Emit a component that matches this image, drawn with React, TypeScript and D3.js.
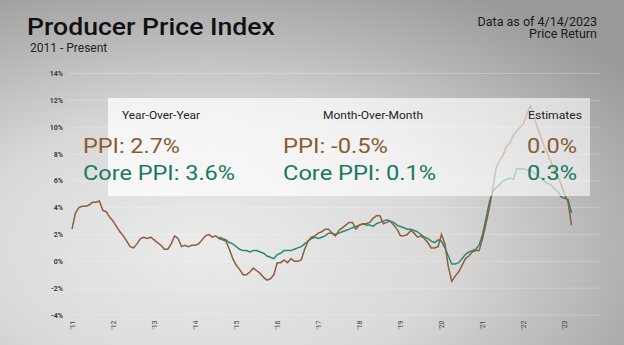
import React from "react";
import * as d3 from "d3";

const W = 624;
const H = 345;

const yTicks = [14, 12, 10, 8, 6, 4, 2, 0, -2, -4];
const yearLabels = ["'11", "'12", "'13", "'14", "'15", "'16", "'17", "'18", "'19", "'20", "'21", "'22", "'23"];

// Monthly YoY %, Jan 2011 .. Mar 2023
const ppi = [
  2.4, 3.6, 4.0, 4.1, 4.1, 4.2, 4.4, 4.4, 4.5, 3.8, 3.7, 3.3,
  3.0, 2.6, 2.2, 1.9, 1.5, 1.1, 1.0, 1.3, 1.7, 1.8, 1.7, 1.8,
  1.6, 1.4, 1.2, 0.9, 0.9, 1.3, 1.9, 1.7, 1.1, 1.2, 1.1, 1.2,
  1.2, 1.3, 1.6, 1.9, 2.0, 1.8, 1.9, 1.7, 1.6, 1.5, 0.9, 0.2,
  -0.3, -0.6, -1.0, -1.0, -0.8, -0.5, -0.7, -0.9, -1.2, -1.4, -1.3, -1.0,
  -0.1, -0.1, 0.1, -0.1, 0.2, 0.0, 0.0, 0.1, 0.9, 1.5, 1.8, 1.9,
  2.1, 2.2, 2.4, 2.4, 2.1, 1.9, 2.3, 2.5, 2.7, 2.9, 2.9, 2.4,
  2.7, 2.8, 2.8, 2.9, 3.2, 3.4, 3.4, 2.8, 2.9, 3.0, 2.7, 2.4,
  1.9, 1.9, 2.0, 2.3, 2.1, 1.8, 1.9, 1.7, 1.4, 1.0, 1.0, 1.1,
  2.0, 1.3, -0.4, -1.5, -1.1, -0.8, -0.3, 0.2, 0.4, 0.7, 0.8, 0.8,
  1.7, 2.8, 4.0, 5.5, 7.0, 7.5, 7.9, 8.6, 8.8, 9.4, 9.7, 10.0,
  10.3, 11.0, 11.6, 10.9, 10.0, 9.3, 8.6, 8.0, 7.4, 6.8, 6.3, 5.7,
  5.0, 4.4, 2.7,
];

// Core PPI starts Aug 2014 (month index 43)
const coreStart = 43;
const corePpi = [
  1.8, 1.7, 1.6, 1.4, 1.3,
  1.1, 0.9, 0.8, 0.8, 0.7, 0.8, 0.8, 0.7, 0.6, 0.4, 0.3, 0.2,
  0.5, 0.6, 0.8, 0.8, 0.8, 0.9, 1.0, 1.1, 1.3, 1.5, 1.7, 1.8,
  1.7, 1.8, 1.9, 2.1, 2.1, 2.0, 2.1, 2.2, 2.3, 2.4, 2.5, 2.6,
  2.7, 2.8, 2.7, 2.7, 2.6, 2.8, 2.9, 3.0, 3.1, 3.0, 2.9, 2.7,
  2.6, 2.5, 2.4, 2.4, 2.3, 2.2, 2.0, 1.8, 1.7, 1.5, 1.4, 1.6,
  1.5, 1.0, 0.4, -0.2, -0.2, -0.1, 0.2, 0.5, 0.7, 0.8, 0.9, 1.2,
  2.0, 3.2, 4.4, 5.2, 5.5, 5.7, 6.0, 6.1, 6.2, 6.1, 6.9, 6.9,
  6.9, 6.8, 6.8, 6.6, 6.4, 6.2, 6.0, 5.8, 5.7, 5.4, 5.2, 4.8,
  4.7, 4.6, 3.6,
];

const headings = ["Year-Over-Year", "Month-Over-Month", "Estimates"];
const ppiStats = ["PPI: 2.7%", "PPI: -0.5%", "0.0%"];
const coreStats = ["Core PPI: 3.6%", "Core PPI: 0.1%", "0.3%"];

const BROWN = "#8a5b30";
const TEAL = "#1b7763";
const LINE_BROWN = "#8c5e3a";
const LINE_TEAL = "#2a8876";

export default function App() {
  const x = d3.scaleLinear().domain([0, 146]).range([72, 571.5]);
  const y = d3.scaleLinear().domain([-4, 14]).range([315, 73.5]);

  const line = d3
    .line<[number, number]>()
    .x((d) => x(d[0]))
    .y((d) => y(d[1]))
    .curve(d3.curveLinear);

  const ppiPts: [number, number][] = ppi.map((v, i) => [i, v]);
  const corePts: [number, number][] = corePpi.map((v, i) => [i + coreStart, v]);

  const font = "Roboto, 'Open Sans', sans-serif";

  const headX = [122, 323, 528];
  const headW = [78, 100, 54];
  const statX = [83, 283, 527];
  const ppiW = [97, 105, 50];
  const coreW = [152, 153, 50];

  return (
    <svg width={W} height={H} style={{ position: "absolute", left: 0, top: 0 }}>
      <defs>
        <radialGradient id="bg" cx="0.33" cy="0.72" r="0.85" fx="0.33" fy="0.72">
          <stop offset="0" stopColor="#ebebeb" />
          <stop offset="0.45" stopColor="#d9d9d9" />
          <stop offset="1" stopColor="#999999" />
        </radialGradient>
        <linearGradient id="box" x1="0" x2="1" y1="0" y2="0">
          <stop offset="0" stopColor="#ffffff" stopOpacity={0.75} />
          <stop offset="1" stopColor="#ffffff" stopOpacity={0.58} />
        </linearGradient>
      </defs>
      <rect x={0} y={0} width={W} height={H} fill="url(#bg)" />

      {/* faint gridlines */}
      {yTicks.map((t) => (
        <line
          key={"g" + t}
          x1={68}
          x2={600}
          y1={y(t)}
          y2={y(t)}
          stroke="#ffffff"
          strokeOpacity={0.22}
          strokeWidth={1}
        />
      ))}

      {/* y labels */}
      {yTicks.map((t) => (
        <text
          key={"y" + t}
          x={63}
          y={y(t) + 2.5}
          textAnchor="end"
          fontFamily={font}
          fontSize={7}
          fontWeight={700}
          fill="#3a3a3a"
        >
          {t + "%"}
        </text>
      ))}

      {/* x labels */}
      {yearLabels.map((lab, k) => {
        const xx = x(k * 12);
        return (
          <text
            key={lab}
            transform={`translate(${xx + 2.5},${325}) rotate(-90)`}
            textAnchor="middle"
            fontFamily={font}
            fontSize={7}
            fill="#444"
          >
            {lab}
          </text>
        );
      })}

      {/* lines */}
      <path d={line(corePts) || ""} fill="none" stroke={LINE_TEAL} strokeWidth={1.5} />
      <path d={line(ppiPts) || ""} fill="none" stroke={LINE_BROWN} strokeWidth={1.5} />

      {/* overlay box */}
      <rect x={108} y={98} width={482} height={98} fill="url(#box)" />

      {/* headings */}
      {headings.map((h, k) => (
        <text
          key={h}
          x={headX[k]}
          y={119}
          textLength={headW[k]}
          lengthAdjust="spacingAndGlyphs"
          fontFamily={font}
          fontSize={11.5}
          fill="#222"
        >
          {h}
        </text>
      ))}
      {ppiStats.map((s, k) => (
        <text
          key={"p" + k}
          x={statX[k]}
          y={153}
          textLength={ppiW[k]}
          lengthAdjust="spacingAndGlyphs"
          fontFamily={font}
          fontSize={20.5}
          fill={BROWN}
        >
          {s}
        </text>
      ))}
      {coreStats.map((s, k) => (
        <text
          key={"c" + k}
          x={statX[k]}
          y={180}
          textLength={coreW[k]}
          lengthAdjust="spacingAndGlyphs"
          fontFamily={font}
          fontSize={20.5}
          fill={TEAL}
        >
          {s}
        </text>
      ))}

      {/* titles */}
      <text
        x={27}
        y={35}
        textLength={248}
        lengthAdjust="spacingAndGlyphs"
        fontFamily={font}
        fontSize={23.5}
        fontWeight={500}
        fill="#111"
      >
        Producer Price Index
      </text>
      <text x={30} y={52} fontFamily={font} fontSize={12} fill="#222">
        2011 - Present
      </text>
      <text x={597} y={25.5} textAnchor="end" fontFamily={font} fontSize={12.5} fill="#1a1a1a">
        Data as of 4/14/2023
      </text>
      <text x={597} y={37.5} textAnchor="end" fontFamily={font} fontSize={12.5} fill="#1a1a1a">
        Price Return
      </text>
    </svg>
  );
}
